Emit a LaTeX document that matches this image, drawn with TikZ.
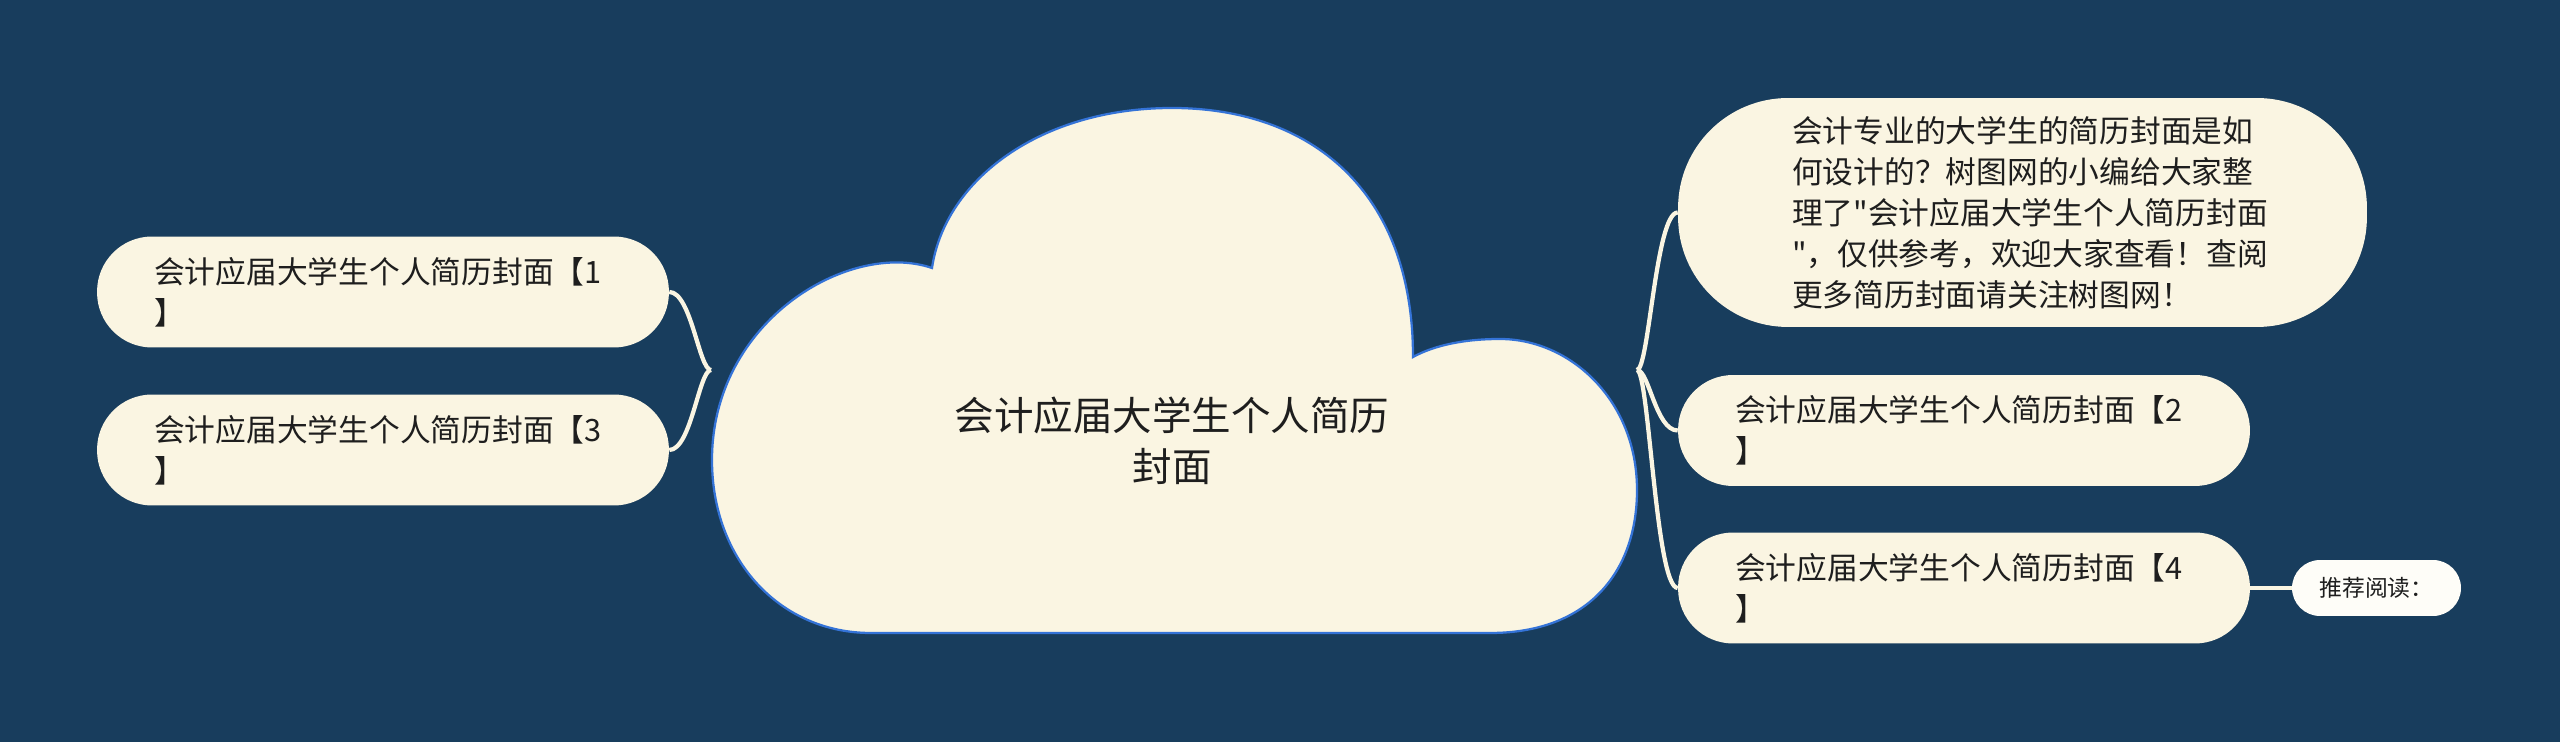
\documentclass[tikz,border=0pt]{standalone}
\usepackage{fontspec}
\newfontfamily\cjk{Noto Sans CJK SC}
\usepackage{tikz}

\definecolor{bgblue}{RGB}{24,61,93}
\definecolor{paper}{RGB}{250,245,226}
\definecolor{paperw}{RGB}{254,253,248}
\definecolor{edgeblue}{RGB}{52,115,215}
\definecolor{ink}{RGB}{30,30,30}

\begin{document}
\begin{tikzpicture}[x=0.02cm, y=-0.02cm,
    leaf/.style={fill=paper, rounded corners=1.1cm, minimum height=2.22cm,
        text width=9.16cm, inner xsep=1.14cm, inner ysep=0pt, align=left,
        font=\cjk\fontsize{17.5}{23.3}\selectfont, text=ink},
    desc/.style={leaf, rounded corners=2.2cm, minimum height=4.58cm,
        text width=9.22cm, inner xsep=2.28cm},
    more/.style={fill=paperw, rounded corners=0.56cm, minimum width=3.38cm,
        minimum height=1.12cm, inner sep=0pt,
        font=\cjk\fontsize{13}{16}\selectfont, text=ink},
    link/.style={draw=paper, line width=0.085cm}]

    % Background
    \fill[bgblue] (0,0) rectangle (2560,742);

    % Cloud
    \draw[fill=paper, draw=edgeblue, line width=0.045cm]
        (871,633) -- (1490,633)
        .. controls (1590,633) and (1637,570) .. (1637,490)
        .. controls (1637,400) and (1570,339) .. (1500,339)
        .. controls (1465,339) and (1435,345) .. (1413,357)
        .. controls (1413,190) and (1310,108) .. (1172,108)
        .. controls (1040,108) and (945,180) .. (932,268)
        .. controls (850,240) and (712,320) .. (712,460)
        .. controls (712,560) and (780,633) .. (871,633) -- cycle;

    \node[font=\cjk\fontsize{22.5}{29}\selectfont, align=center, text=ink]
        (root) at (1172,441) {会计应届大学生个人简历\\封面};
    \coordinate (rootL) at (711,370);
    \coordinate (rootR) at (1637,370);

    % Left side
    \node[leaf] (left1) at (383,292) {会计应届大学生个人简历封面【1\\】};
    \node[leaf] (left3) at (383,450) {会计应届大学生个人简历封面【3\\】};

    \draw[link] (left1.east) .. controls +(22,0) and +(-12,0) .. (rootL);
    \draw[link] (left3.east) .. controls +(22,0) and +(-12,0) .. (rootL);

    % Right side
    \node[desc] (desc) at (2022.5,212.5) {会计专业的大学生的简历封面是如\\何设计的？树图网的小编给大家整\\理了"会计应届大学生个人简历封面\\"，仅供参考，欢迎大家查看！查阅\\更多简历封面请关注树图网！};
    \node[leaf] (right2) at (1964,430.5) {会计应届大学生个人简历封面【2\\】};
    \node[leaf] (right4) at (1964,588) {会计应届大学生个人简历封面【4\\】};
    \node[more] (read) at (2376.5,588) {推荐阅读：};

    \draw[link] (rootR) .. controls +(12,0) and +(-22,0) .. (desc.west);
    \draw[link] (rootR) .. controls +(12,0) and +(-22,0) .. (right2.west);
    \draw[link] (rootR) .. controls +(12,0) and +(-22,0) .. (right4.west);
    \draw[link] (right4.east) -- (read.west);
\end{tikzpicture}
\end{document}
